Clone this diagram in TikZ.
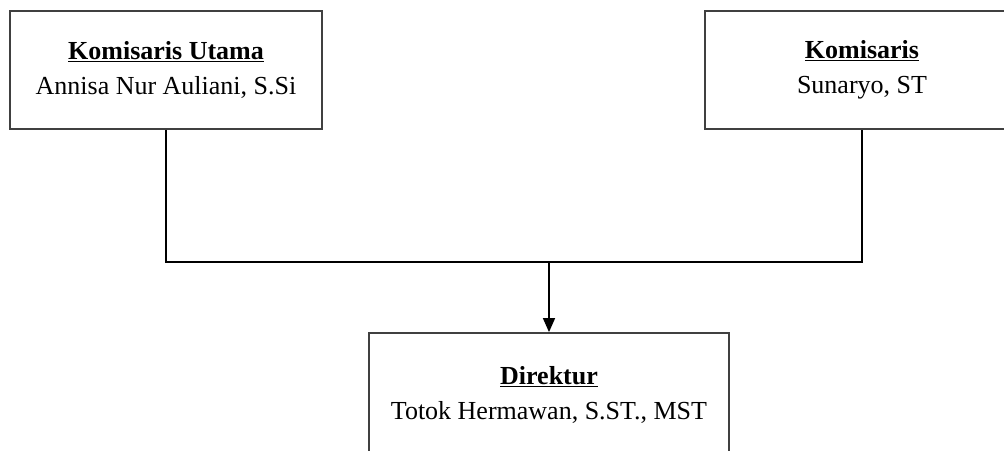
\documentclass[tikz,border=0pt]{standalone}
\usepackage{fontspec}
\setmainfont{Liberation Serif}
\usetikzlibrary{arrows.meta}
\begin{document}
\begin{tikzpicture}[x=1pt,y=-1pt,
  orgbox/.style={draw=black!75, line width=1.8pt, rectangle, align=center,
    font=\fontsize{26}{35}\selectfont, inner sep=0pt},
  conn/.style={draw=black, line width=1.5pt}]
\useasboundingbox (0,0) rectangle (1004,450);
\clip (0,0) rectangle (1004,450);
\fill[white] (0,0) rectangle (1004,450);
\node[orgbox, minimum width=312pt, minimum height=118pt] (ku) at (166,70)
  {\underline{\textbf{Komisaris Utama}}\\Annisa Nur Auliani, S.Si};
\node[orgbox, minimum width=314pt, minimum height=118pt] (k) at (862,70)
  {\underline{\textbf{Komisaris}}\\Sunaryo, ST};
\node[orgbox, minimum width=360pt, minimum height=124pt] (d) at (549,395)
  {\underline{\textbf{Direktur}}\\Totok Hermawan, S.ST., MST};
\coordinate (j) at (549,262);
\draw[conn] (ku.south) |- (j) -| (k.south);
\draw[conn, -{Triangle[width=12pt,length=14pt]}] (j) -- (d.north);
\end{tikzpicture}
\end{document}
